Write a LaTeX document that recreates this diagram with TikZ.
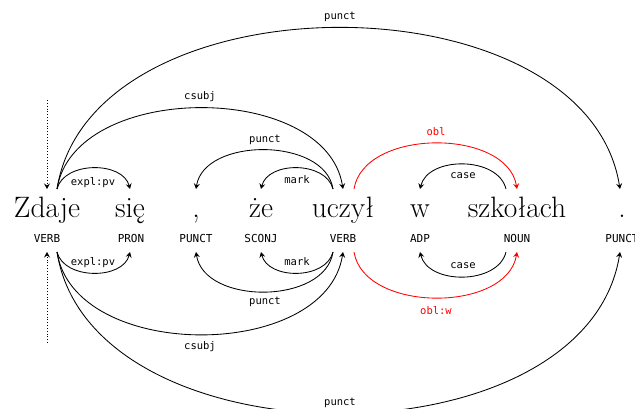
\documentclass[tikz,border=0pt]{standalone}
\usepackage{fontspec}
\newfontfamily\monofont{DejaVu Sans Mono}
\usetikzlibrary{arrows.meta}
\begin{document}
\begin{tikzpicture}[x=1pt,y=-1pt,
  word/.style={anchor=base,inner sep=0pt,font=\fontsize{29.5}{30}\selectfont},
  tag/.style={anchor=base,inner sep=0pt,font=\monofont\fontsize{11}{12}\selectfont},
  lab/.style={inner sep=1pt,font=\monofont\fontsize{10.5}{11}\selectfont},
  arc/.style={line width=0.85pt,-{Stealth[length=5.5pt,width=6pt,inset=2pt]}},
  redarc/.style={arc,draw=red},
  rootarc/.style={arc,dotted,line width=0.85pt}]
\useasboundingbox (0,0) rectangle (635,409);
\clip (0,0) rectangle (635,409);
% words
\node[word] (w1) at (47,218) {Zdaje};
\node[word] (w2) at (130,218) {się};
\node[word] (w3) at (196,218) {,};
\node[word] (w4) at (261,218) {że};
\node[word] (w5) at (343,218) {uczył};
\node[word] (w6) at (420,218) {w};
\node[word] (w7) at (517,218) {szkołach};
\node[word] (w8) at (622,218) {.};
% tags
\node[tag] (t1) at (47,242) {VERB};
\node[tag] (t2) at (131,242) {PRON};
\node[tag] (t3) at (196,242) {PUNCT};
\node[tag] (t4) at (261,242) {SCONJ};
\node[tag] (t5) at (343,242) {VERB};
\node[tag] (t6) at (420,242) {ADP};
\node[tag] (t7) at (517,242) {NOUN};
\node[tag] (t8) at (622,242) {PUNCT};
% anchor points top
\coordinate (zdTo) at (57,189);
\coordinate (ucTl) at (333,189);
\coordinate (ucTr) at (354,189);
\coordinate (szTl) at (506,189);
\coordinate (zdT) at (47,189);
\coordinate (sieT) at (130,189);
\coordinate (comT) at (196,189);
\coordinate (zeT) at (261,189);
\coordinate (ucT) at (343,189);
\coordinate (wT) at (420,189);
\coordinate (szT) at (517,189);
\coordinate (dotT) at (620,189);
\coordinate (rootT) at (47,100);
% anchor points bottom
\coordinate (zdBo) at (57,252);
\coordinate (ucBl) at (333,252);
\coordinate (ucBr) at (354,252);
\coordinate (szBl) at (506,252);
\coordinate (zdB) at (47,252);
\coordinate (sieB) at (130,252);
\coordinate (comB) at (196,252);
\coordinate (zeB) at (261,252);
\coordinate (ucB) at (343,252);
\coordinate (wB) at (420,252);
\coordinate (szB) at (517,252);
\coordinate (dotB) at (620,252);
\coordinate (rootB) at (47,343);
% top arcs
\draw[rootarc] (rootT) -- (zdT);
\draw[arc] (zdTo) .. controls +(7,-28) and +(-7,-28) .. (sieT);
\draw[arc] (zdTo) .. controls +(17,-108) and +(-17,-108) .. (ucT);
\draw[arc] (zdTo) .. controls +(34,-215) and +(-34,-215) .. (dotT);
\draw[arc] (ucTl) .. controls +(-8,-52) and +(8,-52) .. (comT);
\draw[arc] (ucTl) .. controls +(-7,-28) and +(7,-28) .. (zeT);
\draw[redarc] (ucTr) .. controls +(10,-61) and +(-10,-61) .. (szT);
\draw[arc] (szTl) .. controls +(-8,-33) and +(8,-33) .. (wT);
% bottom arcs
\draw[rootarc] (rootB) -- (zdB);
\draw[arc] (zdBo) .. controls +(7,28) and +(-7,28) .. (sieB);
\draw[arc] (zdBo) .. controls +(17,110) and +(-17,110) .. (ucB);
\draw[arc] (zdBo) .. controls +(34,215) and +(-34,215) .. (dotB);
\draw[arc] (ucBl) .. controls +(-8,53) and +(8,53) .. (comB);
\draw[arc] (ucBl) .. controls +(-7,28) and +(7,28) .. (zeB);
\draw[redarc] (ucBr) .. controls +(10,61) and +(-10,61) .. (szB);
\draw[arc] (szBl) .. controls +(-8,33) and +(8,33) .. (wB);
% top labels
\node[lab] (l1) at (93,183) {expl:pv};
\node[lab] (l2) at (200,97) {csubj};
\node[lab] (l3) at (340,17) {punct};
\node[lab] (l4) at (265,140) {punct};
\node[lab] (l5) at (297,180) {mark};
\node[lab,text=red] (l6) at (436,132) {obl};
\node[lab] (l7) at (463,176) {case};
% bottom labels
\node[lab] (b1) at (93,263) {expl:pv};
\node[lab] (b2) at (200,347) {csubj};
\node[lab,fill=white] (b3) at (340,403) {punct};
\node[lab] (b4) at (265,302) {punct};
\node[lab] (b5) at (297,262) {mark};
\node[lab,text=red] (b6) at (436,311) {obl:w};
\node[lab] (b7) at (463,266) {case};
\end{tikzpicture}
\end{document}
